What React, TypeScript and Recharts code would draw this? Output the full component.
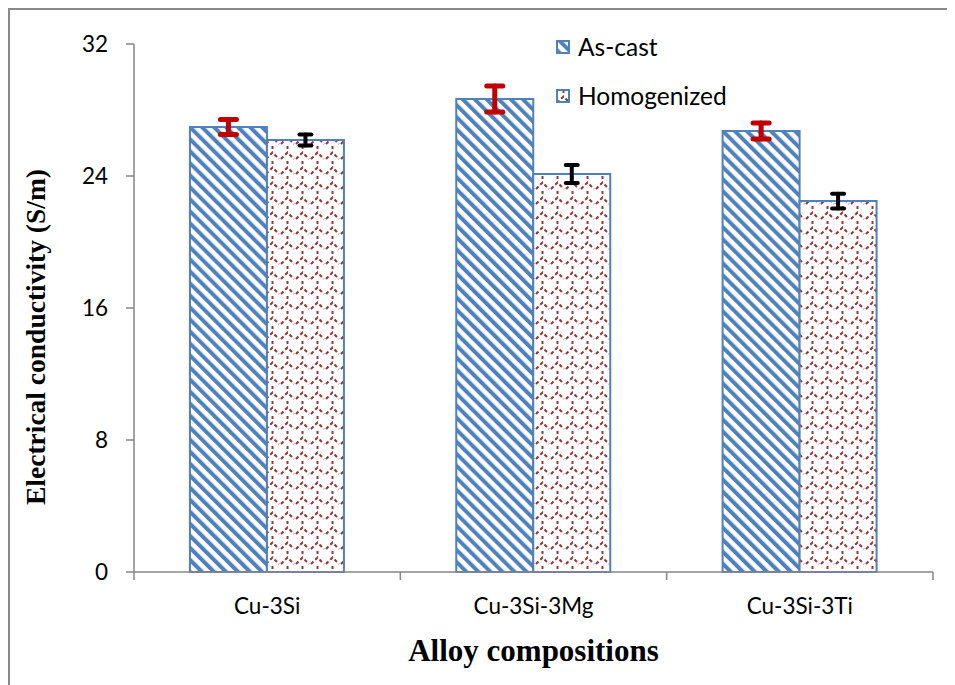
import React from 'react';
import { BarChart, Bar, XAxis, YAxis, ErrorBar, Legend } from 'recharts';

const categories = ['Cu-3Si', 'Cu-3Si-3Mg', 'Cu-3Si-3Ti'];
const asCast = [26.97, 28.67, 26.73];
const asCastErr = [0.45, 0.79, 0.48];
const homogenized = [26.18, 24.12, 22.48];
const homogenizedErr = [0.33, 0.55, 0.45];
const yTicks = [0, 8, 16, 24, 32];
const seriesNames = ['As-cast', 'Homogenized'];

const data = categories.map((c, i) => ({
  name: c,
  asCast: asCast[i],
  asCastErr: asCastErr[i],
  homogenized: homogenized[i],
  homogenizedErr: homogenizedErr[i],
}));

const AXIS = '#868686';
const BLUE = '#4F81BD';
const RED = '#943634';
const SANS = 'Lato, "Open Sans", sans-serif';
const SERIF = '"Liberation Serif", "Times New Roman", serif';

const XTick = (props: any) => {
  const { x, y, payload, index, visibleTicksCount } = props;
  const half = payload && payload.offset ? payload.offset : 133;
  const axisY = y - 8;
  return (
    <g>
      <line x1={x - half} x2={x - half} y1={axisY} y2={axisY + 8} stroke={AXIS} strokeWidth={1.5} />
      {index === visibleTicksCount - 1 && (
        <line x1={x + half} x2={x + half} y1={axisY} y2={axisY + 8} stroke={AXIS} strokeWidth={1.5} />
      )}
      <text x={x} y={axisY + 33} textAnchor="middle" dominantBaseline="central" fontFamily={SANS} fontSize={22.5} fill="#000">
        {payload.value}
      </text>
    </g>
  );
};

const LegendContent = () => (
  <div style={{ fontFamily: SANS, fontSize: 24.5, color: '#000' }}>
    {seriesNames.map((n, i) => (
      <div key={n} style={{ display: 'flex', alignItems: 'center', height: 49 }}>
        <svg width={14} height={14} style={{ marginRight: 8 }}>
          <rect x={1} y={1} width={12} height={12} fill={i === 0 ? 'url(#stripes)' : 'url(#dots)'} stroke={BLUE} strokeWidth={2} />
        </svg>
        <span>{n}</span>
      </div>
    ))}
  </div>
);

export default function App() {
  return (
    <div style={{ borderLeft: '2px solid #8a8a8a', borderTop: '2px solid #8a8a8a', width: 945, height: 675 }}>
      <BarChart
        width={945}
        height={675}
        data={data}
        margin={{ top: 34, right: 22, bottom: 13, left: 0 }}
        barCategoryGap="21%"
        barGap={0}
      >
        <defs>
          <pattern id="stripes" patternUnits="userSpaceOnUse" width={8.5} height={8.5} patternTransform="rotate(-45)">
            <rect width={8.5} height={8.5} fill="#fff" />
            <rect x={0} y={0} width={4} height={8.5} fill={BLUE} />
          </pattern>
          <pattern id="dots" patternUnits="userSpaceOnUse" width={15} height={15}>
            <rect width={15} height={15} fill="#fff" />
            <path d="M1,14 L7.5,7.5 L14,14" fill="none" stroke={RED} strokeWidth={2} strokeDasharray="3.5 2.5" />
            <path d="M7.5,1 L7.5,4" fill="none" stroke={RED} strokeWidth={2} />
          </pattern>
        </defs>
        <XAxis
          dataKey="name"
          height={100}
          tickSize={8}
          tickMargin={0}
          tickLine={false}
          axisLine={{ stroke: AXIS, strokeWidth: 1.5 }}
          tick={<XTick />}
          interval={0}
          label={{
            content: (p: any) => {
              const vb = p.viewBox;
              return (
                <text x={vb.x + vb.width / 2} y={vb.y + 78} textAnchor="middle" dominantBaseline="central" fontFamily={SERIF} fontWeight="bold" fontSize={31} fill="#000">
                  Alloy compositions
                </text>
              );
            },
          }}
        />
        <YAxis
          width={124}
          domain={[0, 32]}
          ticks={yTicks}
          tickSize={8}
          tickMargin={18}
          tickLine={{ stroke: AXIS, strokeWidth: 1.5 }}
          axisLine={{ stroke: AXIS, strokeWidth: 1.5 }}
          tick={{ fill: '#000', fontFamily: SANS, fontSize: 22.5 }}
          label={{
            content: (p: any) => {
              const vb = p.viewBox;
              const cx = vb.x + 25;
              const cy = vb.y + vb.height / 2 + 29;
              return (
                <text x={cx} y={cy} transform={`rotate(-90 ${cx} ${cy})`} textAnchor="middle" dominantBaseline="central" fontFamily={SERIF} fontWeight="bold" fontSize={27.5} fill="#000">
                  Electrical conductivity (S/m)
                </text>
              );
            },
          }}
        />
        <Legend
          layout="vertical"
          align="center"
          verticalAlign="middle"
          content={<LegendContent />}
          wrapperStyle={{ position: 'absolute', left: 546, top: 12, width: 'auto', height: 'auto' }}
        />
        <Bar dataKey="asCast" name="As-cast" fill="url(#stripes)" stroke={BLUE} strokeWidth={2} isAnimationActive={false}>
          <ErrorBar dataKey="asCastErr" width={8} stroke="#C00000" strokeWidth={5} strokeLinecap="round" />
        </Bar>
        <Bar dataKey="homogenized" name="Homogenized" fill="url(#dots)" stroke={BLUE} strokeWidth={2} isAnimationActive={false}>
          <ErrorBar dataKey="homogenizedErr" width={6} stroke="#000" strokeWidth={4} strokeLinecap="round" />
        </Bar>
      </BarChart>
    </div>
  );
}
